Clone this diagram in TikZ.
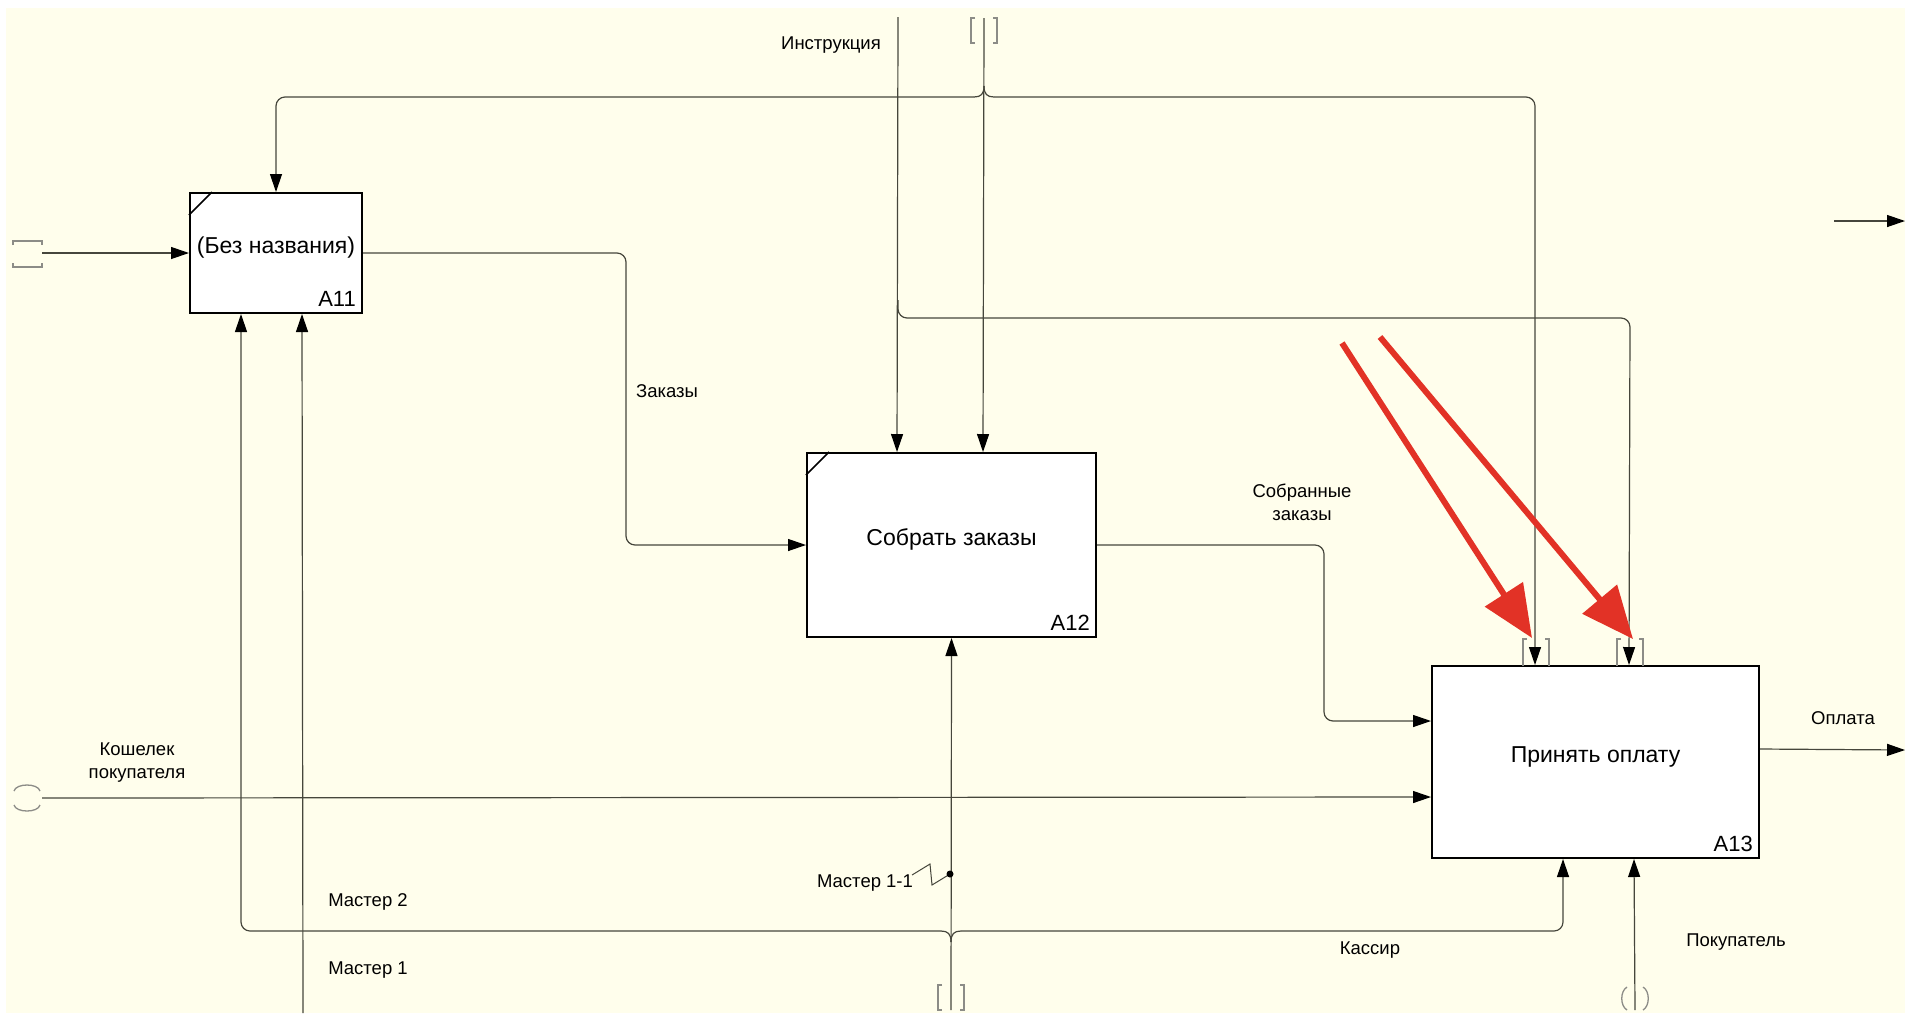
\documentclass[tikz,border=0pt]{standalone}
\usepackage{fontspec}
\setmainfont{Liberation Sans}
\usetikzlibrary{arrows.meta, calc}
\definecolor{idefBack}{RGB}{255,254,236}
\definecolor{idefLine}{RGB}{70,70,60}
\definecolor{idefTunnel}{RGB}{140,140,135}
\definecolor{idefRed}{RGB}{226,50,38}

\begin{document}
\begin{tikzpicture}[x=1pt, y=-1pt,
    funcbox/.style={draw=black, line width=2pt, fill=white, inner sep=0pt, text height=17pt, text depth=17pt, font=\fontsize{23}{27}\selectfont},
    flow/.style={draw=idefLine, line width=1.2pt, rounded corners=9pt, -{Triangle[length=18pt,width=12pt,black]}},
    wire/.style={draw=idefLine, line width=1.2pt},
    tunnel/.style={draw=idefTunnel, line width=1.3pt},
    lbl/.style={font=\fontsize{18.5}{23}\selectfont, align=center},
    boxid/.style={font=\fontsize{22}{24}\selectfont, anchor=south east, inner sep=0pt},
    hint/.style={draw=idefRed, line width=6pt, -{Triangle[length=52pt,width=44pt]}}]
    \useasboundingbox (0,0) rectangle (1905,1013);
    \fill[white] (0,0) rectangle (1905,1013);
    \fill[idefBack] (6,8) rectangle (1905,1013);
    % boxes
    \node[funcbox, minimum width=172pt, minimum height=120pt] (a11) at (276,253) {(Без названия)};
    \node[funcbox, minimum width=289pt, minimum height=184pt] (a12) at (951.5,545) {Собрать заказы};
    \node[funcbox, minimum width=327pt, minimum height=192pt] (a13) at (1595.5,762) {Принять оплату};
    \node[boxid] at ([shift={(-7,-7)}]a11.south east) {A11};
    \node[boxid] at ([shift={(-7,-7)}]a12.south east) {A12};
    \node[boxid] at ([shift={(-7,-7)}]a13.south east) {A13};
    \draw[line width=1.5pt] (a11.north west) ++(0,23) -- ++(23,-23);
    \draw[line width=1.5pt] (a12.north west) ++(0,23) -- ++(23,-23);
    % ports
    \coordinate (a11m1) at ([shift={(52,0)}]a11.south west);
    \coordinate (a11m2) at ([shift={(113,0)}]a11.south west);
    \coordinate (a12c1) at ([shift={(91,0)}]a12.north west);
    \coordinate (a12c2) at ([shift={(177,0)}]a12.north west);
    \coordinate (a13c1) at ([shift={(104,0)}]a13.north west);
    \coordinate (a13c2) at ([shift={(198,0)}]a13.north west);
    \coordinate (a13i1) at ([shift={(0,56)}]a13.north west);
    \coordinate (a13i2) at ([shift={(0,132)}]a13.north west);
    \coordinate (a13o) at ([shift={(0,84)}]a13.north east);
    \coordinate (a13m1) at ([shift={(132,0)}]a13.south west);
    \coordinate (a13m2) at ([shift={(203,0)}]a13.south west);
    % free ends
    \coordinate (inLeft) at (42,253);
    \coordinate (wallet) at (42,798);
    \coordinate (ctlTop) at (984,18);
    \coordinate (instrTop) at (898,17);
    \coordinate (mechBot) at (951,1010);
    \coordinate (master1) at (303,1013);
    \coordinate (buyer) at (1635,1010);
    \coordinate (pay) at (1905,750);
    \coordinate (extA) at (1834,221);
    \coordinate (extB) at (1905,221);
    % inputs and outputs
    \draw[flow] (inLeft) -- (a11.west);
    \draw[flow] (a11.east) -- (626,253) |- (a12.west);
    \draw[flow] (a12.east) -- (1324,545) |- (a13i1);
    \draw[flow] (wallet) -- (a13i2);
    \draw[flow] (a13o) -- (pay);
    \draw[flow] (extA) -- (extB);
    % controls
    \draw[flow] (ctlTop) -- (a12c2);
    \draw[flow] (974,97) -| (a11.north);
    \draw[flow] (994,97) -| (a13c1);
    \draw[wire] (974,97) .. controls (981,97) and (984,94) .. (984,86);
    \draw[wire] (994,97) .. controls (987,97) and (984,94) .. (984,86);
    \draw[flow] (instrTop) -- (a12c1);
    \draw[flow] (898,300) |- (1630,318) -- (a13c2);
    % mechanisms
    \draw[flow] (mechBot) -- (a12.south);
    \draw[flow] (941,931) -| (a11m1);
    \draw[flow] (961,931) -| (a13m1);
    \draw[wire] (941,931) .. controls (948,931) and (951,934) .. (951,942);
    \draw[wire] (961,931) .. controls (954,931) and (951,934) .. (951,942);
    \draw[flow] (master1) -- (a11m2);
    \draw[flow] (buyer) -- (a13m2);
    \draw[wire, line width=1pt] (912,875) -- (930,864) -- (932,885) -- (950,874);
    \fill (950,874) circle (3.5);
    % tunnels
    \draw[tunnel] (13,245) -- (13,241) -- (42,241) -- (42,245);
    \draw[tunnel] (13,263) -- (13,267) -- (42,267) -- (42,263);
    \draw[tunnel] (14,791) .. controls (16,783) and (38,783) .. (40,791);
    \draw[tunnel] (14,805) .. controls (16,813) and (38,813) .. (40,805);
    \draw[tunnel] (975,18) -- (971,18) -- (971,43) -- (975,43);
    \draw[tunnel] (993,18) -- (997,18) -- (997,43) -- (993,43);
    \draw[tunnel] (942,985) -- (938,985) -- (938,1010) -- (942,1010);
    \draw[tunnel] (960,985) -- (964,985) -- (964,1010) -- (960,1010);
    \draw[tunnel] (1627,987) .. controls (1620,991) and (1620,1006) .. (1627,1010);
    \draw[tunnel] (1643,987) .. controls (1650,991) and (1650,1006) .. (1643,1010);
    \foreach \tx in {1536,1630} {
      \draw[tunnel] (\tx-9,639) -- (\tx-13,639) -- (\tx-13,666);
      \draw[tunnel] (\tx+9,639) -- (\tx+13,639) -- (\tx+13,666);
    }
    % labels
    \node[lbl] (lInstr) at (831,45) {Инструкция};
    \node[lbl] (lOrders) at (667,391) {Заказы};
    \node[lbl] (lCollected) at (1302,502) {Собранные\\заказы};
    \node[lbl] (lWallet) at (137,763) {Кошелек\\покупателя};
    \node[lbl] (lPay) at (1843,718) {Оплата};
    \node[lbl] (lM2) at (368,902) {Мастер 2};
    \node[lbl] (lM1) at (368,970) {Мастер 1};
    \node[lbl] (lM11) at (865,883) {Мастер 1-1};
    \node[lbl] (lCashier) at (1370,950) {Кассир};
    \node[lbl] (lBuyer) at (1736,942) {Покупатель};
    % red pointers
    \coordinate (r1s) at (1342,343);
    \coordinate (r1e) at (1532,638);
    \coordinate (r2s) at (1380,337);
    \coordinate (r2e) at (1633,639);
    \draw[hint] (r1s) -- (r1e);
    \draw[hint] (r2s) -- (r2e);
\end{tikzpicture}
\end{document}
